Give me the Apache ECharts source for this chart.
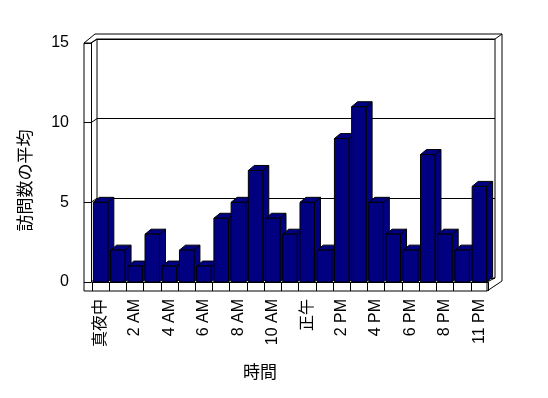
<!DOCTYPE html>
<html>
<head>
<meta charset="utf-8">
<script src="https://cdn.jsdelivr.net/npm/echarts@6/dist/echarts.min.js"></script>
<style>
  html, body { margin: 0; padding: 0; background: #fff; }
  #chart { width: 548px; height: 398px; }
</style>
</head>
<body>
<div id="chart"></div>
<script>
const hours = ['真夜中', '1 AM', '2 AM', '3 AM', '4 AM', '5 AM', '6 AM', '7 AM', '8 AM', '9 AM', '10 AM', '11 AM',
  '正午', '1 PM', '2 PM', '3 PM', '4 PM', '5 PM', '6 PM', '7 PM', '8 PM', '9 PM', '11 PM'];
const visits = [5, 2, 1, 3, 1, 2, 1, 4, 5, 7, 4, 3, 5, 2, 9, 11, 5, 3, 2, 8, 3, 2, 6];
const yTicks = [0, 5, 10, 15];

const font = "'Liberation Sans', 'Noto Sans CJK JP', sans-serif";
const navy = '#000080';
const dx = 6, dy = 5; // bar depth

const chart = echarts.init(document.getElementById('chart'));

function bar3d(params, api) {
  const top = api.coord([api.value(0), api.value(1)]);
  const base = api.coord([api.value(0), 0]);
  const w = api.size([1, 0])[0] * 0.84;
  const x0 = top[0] - w / 2, x1 = top[0] + w / 2;
  const st = { fill: navy, stroke: '#000', lineWidth: 1 };
  return {
    type: 'group',
    children: [
      { type: 'polygon', shape: { points: [[x1, top[1]], [x1 + dx, top[1] - dy], [x1 + dx, base[1] - dy], [x1, base[1]]] }, style: st },
      { type: 'polygon', shape: { points: [[x0, top[1]], [x0 + dx, top[1] - dy], [x1 + dx, top[1] - dy], [x1, top[1]]] }, style: st },
      { type: 'rect', shape: { x: x0, y: top[1], width: w, height: base[1] - top[1] }, style: st }
    ]
  };
}

chart.setOption({
  animation: false,
  grid: [
    { left: 92, right: 60, top: 43, bottom: 116 },
    { left: 97, right: 53, top: 39, bottom: 120, show: true, borderColor: '#000', borderWidth: 1 }
  ],
  xAxis: [
    {
      type: 'category', gridIndex: 0, data: hours,
      axisLine: { lineStyle: { color: '#000', width: 1 } },
      axisTick: { show: true, length: 9, interval: 0, lineStyle: { color: '#000' } },
      axisLabel: { interval: 1, rotate: 90, margin: 17, color: '#000', fontSize: 16, fontFamily: font },
      name: '時間', nameLocation: 'middle', nameGap: 83,
      nameTextStyle: { color: '#000', fontSize: 17, fontFamily: font, padding: [0, 60, 0, 0] }
    },
    { type: 'category', gridIndex: 1, data: hours, show: false }
  ],
  yAxis: [
    {
      type: 'value', gridIndex: 0, min: 0, max: 15, interval: 5, offset: 1,
      axisLine: { show: true, lineStyle: { color: '#000' } },
      axisTick: { show: true, length: 7, lineStyle: { color: '#000' } },
      splitLine: { show: false },
      axisLabel: { margin: 22, color: '#000', fontSize: 16, fontFamily: font },
      name: '訪問数の平均', nameLocation: 'middle', nameRotate: 90, nameGap: 56,
      nameTextStyle: { color: '#000', fontSize: 17, fontFamily: font, padding: [0, 36, 0, 0] }
    },
    {
      type: 'value', gridIndex: 1, min: 0, max: 15, interval: 5,
      axisLine: { show: false }, axisTick: { show: false }, axisLabel: { show: false },
      splitLine: { lineStyle: { color: '#000', width: 1 } }
    }
  ],
  series: [{
    type: 'custom',
    xAxisIndex: 0, yAxisIndex: 0,
    renderItem: bar3d,
    data: visits.map((v, i) => [i, v]),
    z: 5
  }]
});

// box frame around the plot (walls and floor)
const line = (pts) => ({ type: 'polyline', shape: { points: pts }, style: { stroke: '#000', lineWidth: 1, fill: null }, z: 1 });
const frame = [
  line([[84, 291], [84, 43], [91, 43]]),
  line([[84, 43], [95, 34], [502, 34], [502, 281], [487, 291], [84, 291]]),
  line([[91, 43], [97, 39]]),
  line([[495, 39], [502, 34]]),
  line([[487, 282], [487, 291]]),
  line([[487, 282], [495, 278]])
];
yTicks.forEach(v => {
  const yf = chart.convertToPixel({ yAxisIndex: 0 }, v);
  const yb = chart.convertToPixel({ yAxisIndex: 1 }, v);
  frame.push(line([[91, yf], [97, yb]]));
});
chart.setOption({ graphic: frame });
</script>
</body>
</html>
